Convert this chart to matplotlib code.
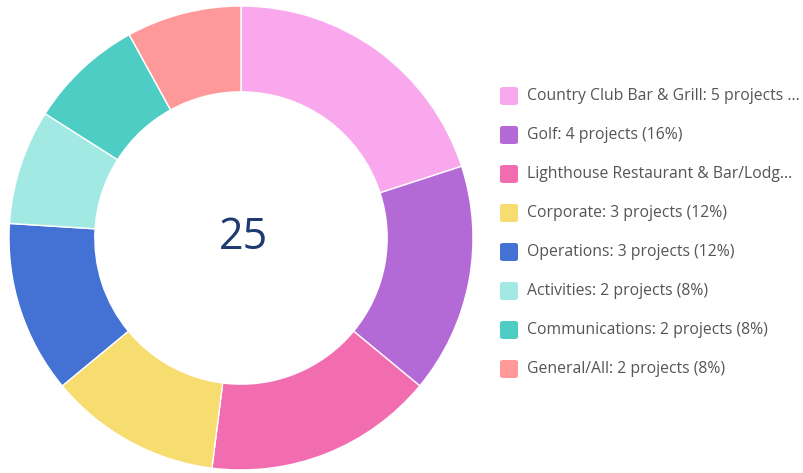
import matplotlib.pyplot as plt
from matplotlib.patches import FancyBboxPatch

categories = ["Country Club Bar & Grill", "Golf", "Lighthouse Restaurant & Bar/Lodge",
              "Corporate", "Operations", "Activities", "Communications", "General/All"]
values = [5, 4, 4, 3, 3, 2, 2, 2]
legend_labels = ["Country Club Bar & Grill: 5 projects ...",
                 "Golf: 4 projects (16%)",
                 "Lighthouse Restaurant & Bar/Lodg...",
                 "Corporate: 3 projects (12%)",
                 "Operations: 3 projects (12%)",
                 "Activities: 2 projects (8%)",
                 "Communications: 2 projects (8%)",
                 "General/All: 2 projects (8%)"]
colors = ["#F9A8EE", "#B36AD6", "#F26DB0", "#F7DC6F",
          "#4472D4", "#A3E9E3", "#4ECDC4", "#FF9999"]

plt.rcParams['font.family'] = ['Open Sans', 'DejaVu Sans']

W, H = 804, 473
fig = plt.figure(figsize=(W / 100, H / 100), dpi=100)

cx, cy, r = 241, 235, 232
ax = fig.add_axes([(cx - r) / W, (cy - r) / H, 2 * r / W, 2 * r / H])
ax.pie(values, colors=colors, startangle=90, counterclock=False, radius=1,
       wedgeprops=dict(width=0.37, edgecolor='white', linewidth=1))
ax.set_xlim(-1, 1)
ax.set_ylim(-1, 1)
ax.set_aspect('equal')
ax.axis('off')
ax.text(0.01, 0.0, str(sum(values)), ha='center', va='center', fontsize=31, color='#1F3A70')

# legend
y0, dy = 96, 39
for i, (lab, c) in enumerate(zip(legend_labels, colors)):
    y = y0 + i * dy
    box = FancyBboxPatch(((500) / W, (H - y - 9) / H), 18 / W, 18 / H,
                         boxstyle="round,pad=0,rounding_size=0.004",
                         transform=fig.transFigure, facecolor=c, edgecolor='none')
    fig.patches.append(box)
    fig.text(527 / W, (H - y) / H, lab, ha='left', va='center', fontsize=11.3, color='#555555')

fig.savefig("out.png", dpi=100)
